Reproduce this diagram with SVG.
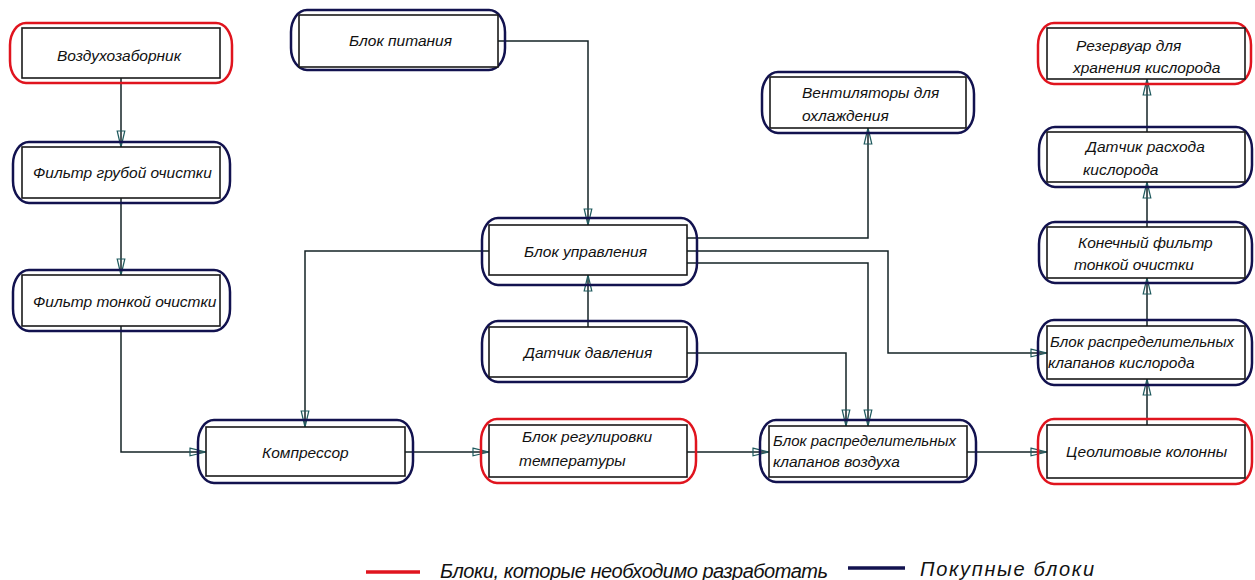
<svg xmlns="http://www.w3.org/2000/svg" width="1255" height="580" viewBox="0 0 1255 580">
<defs>
<style>
.o{fill:none;stroke-width:2.5}
.red{stroke:#e0141e}
.blue{stroke:#12124f}
.i{fill:#fff;stroke:#1a1a1a;stroke-width:1.6}
.t{font-family:"Liberation Sans",Arial,sans-serif;font-style:italic;font-size:15.5px;fill:#111}
.c{fill:none;stroke:#152326;stroke-width:1.5}
.lg{font-family:"Liberation Sans",Arial,sans-serif;font-style:italic;font-size:20px;fill:#111}
</style>
<marker id="ar" markerUnits="userSpaceOnUse" markerWidth="20" markerHeight="12" viewBox="-1 -6 20 12" refX="16" refY="0" orient="auto">
<path d="M0,-3.8 L16,0 L0,3.8 Z" fill="none" stroke="#1f5a5e" stroke-width="1.2"/>
</marker>
</defs>
<rect width="1255" height="580" fill="#fff"/>

<g id="connectors">
<path class="c" d="M121,78 V147" marker-end="url(#ar)"/>
<path class="c" d="M121,198 V275" marker-end="url(#ar)"/>
<path class="c" d="M121,326 V452 H206" marker-end="url(#ar)"/>
<path class="c" d="M405,452 H489" marker-end="url(#ar)"/>
<path class="c" d="M687,452 H769" marker-end="url(#ar)"/>
<path class="c" d="M967,452 H1047" marker-end="url(#ar)"/>
<path class="c" d="M1147,425 V379" marker-end="url(#ar)"/>
<path class="c" d="M1147,326 V278" marker-end="url(#ar)"/>
<path class="c" d="M1147,227 V182" marker-end="url(#ar)"/>
<path class="c" d="M1147,132 V79" marker-end="url(#ar)"/>
<path class="c" d="M498,41 H588 V225" marker-end="url(#ar)"/>
<path class="c" d="M588,327 V275" marker-end="url(#ar)"/>
<path class="c" d="M489,251 H305 V427" marker-end="url(#ar)"/>
<path class="c" d="M687,238 H868 V128" marker-end="url(#ar)"/>
<path class="c" d="M687,251 H888 V353 H1047" marker-end="url(#ar)"/>
<path class="c" d="M687,263 H868 V426" marker-end="url(#ar)"/>
<path class="c" d="M687,353 H846 V426" marker-end="url(#ar)"/>
</g>

<g id="n1"><rect class="o red" x="10" y="23" width="222" height="60" rx="16" ry="22"/><rect class="i" x="22" y="28" width="198" height="50"/><text class="t" x="57" y="61">Воздухозаборник</text></g>
<g id="n2"><rect class="o blue" x="13" y="142" width="217" height="61" rx="16" ry="22"/><rect class="i" x="22" y="147" width="198" height="51"/><text class="t" x="33" y="178">Фильтр грубой очистки</text></g>
<g id="n3"><rect class="o blue" x="13" y="270" width="217" height="61" rx="16" ry="22"/><rect class="i" x="22" y="275" width="198" height="51"/><text class="t" x="33" y="307">Фильтр тонкой очистки</text></g>
<g id="n4"><rect class="o blue" x="291" y="10" width="214" height="60" rx="16" ry="22"/><rect class="i" x="299" y="15" width="199" height="52"/><text class="t" x="349" y="46">Блок питания</text></g>
<g id="n5"><rect class="o blue" x="762" y="72" width="212" height="61" rx="16" ry="22"/><rect class="i" x="770" y="77" width="196" height="51"/><text class="t" x="802" y="98">Вентиляторы для</text><text class="t" x="802" y="121">охлаждения</text></g>
<g id="n6"><rect class="o red" x="1038" y="23" width="213" height="61" rx="16" ry="22"/><rect class="i" x="1047" y="28" width="198" height="51"/><text class="t" x="1076" y="51">Резервуар для</text><text class="t" x="1073" y="73">хранения кислорода</text></g>
<g id="n7"><rect class="o blue" x="1039" y="127" width="213" height="60" rx="16" ry="22"/><rect class="i" x="1047" y="132" width="198" height="50"/><text class="t" x="1086" y="152">Датчик расхода</text><text class="t" x="1083" y="175">кислорода</text></g>
<g id="n8"><rect class="o blue" x="1039" y="222" width="213" height="61" rx="16" ry="22"/><rect class="i" x="1047" y="227" width="198" height="51"/><text class="t" x="1078" y="248">Конечный фильтр</text><text class="t" x="1074" y="270">тонкой очистки</text></g>
<g id="n9"><rect class="o blue" x="1038" y="320" width="214" height="65" rx="16" ry="22"/><rect class="i" x="1047" y="326" width="198" height="53"/><text class="t" x="1050" y="347" textLength="184" lengthAdjust="spacingAndGlyphs">Блок распределительных</text><text class="t" x="1048" y="368">клапанов кислорода</text></g>
<g id="n10"><rect class="o red" x="1038" y="419" width="214" height="65" rx="16" ry="22"/><rect class="i" x="1047" y="425" width="198" height="53"/><text class="t" x="1066" y="457">Цеолитовые колонны</text></g>
<g id="n11"><rect class="o blue" x="482" y="218" width="215" height="67" rx="16" ry="22"/><rect class="i" x="489" y="225" width="198" height="50"/><text class="t" x="524" y="257">Блок управления</text></g>
<g id="n12"><rect class="o blue" x="482" y="321" width="215" height="61" rx="16" ry="22"/><rect class="i" x="489" y="327" width="198" height="50"/><text class="t" x="524" y="358">Датчик давления</text></g>
<g id="n13"><rect class="o blue" x="198" y="420" width="215" height="63" rx="16" ry="22"/><rect class="i" x="206" y="427" width="199" height="49"/><text class="t" x="262" y="458">Компрессор</text></g>
<g id="n14"><rect class="o red" x="481" y="419" width="215" height="64" rx="16" ry="22"/><rect class="i" x="489" y="425" width="198" height="52"/><text class="t" x="522" y="442">Блок регулировки</text><text class="t" x="519" y="466">температуры</text></g>
<g id="n15"><rect class="o blue" x="760" y="420" width="216" height="62" rx="16" ry="22"/><rect class="i" x="769" y="426" width="198" height="51"/><text class="t" x="773" y="446" textLength="183" lengthAdjust="spacingAndGlyphs">Блок распределительных</text><text class="t" x="773" y="467">клапанов воздуха</text></g>

<g id="legend">
<line x1="366" y1="572" x2="420" y2="572" stroke="#e0141e" stroke-width="3.5"/>
<text class="lg" x="440" y="578" textLength="388" lengthAdjust="spacing">Блоки, которые необходимо разработать</text>
<line x1="848" y1="568" x2="905" y2="568" stroke="#12124f" stroke-width="3.5"/>
<text class="lg" x="920" y="576" textLength="174" lengthAdjust="spacing">Покупные блоки</text>
</g>
</svg>
